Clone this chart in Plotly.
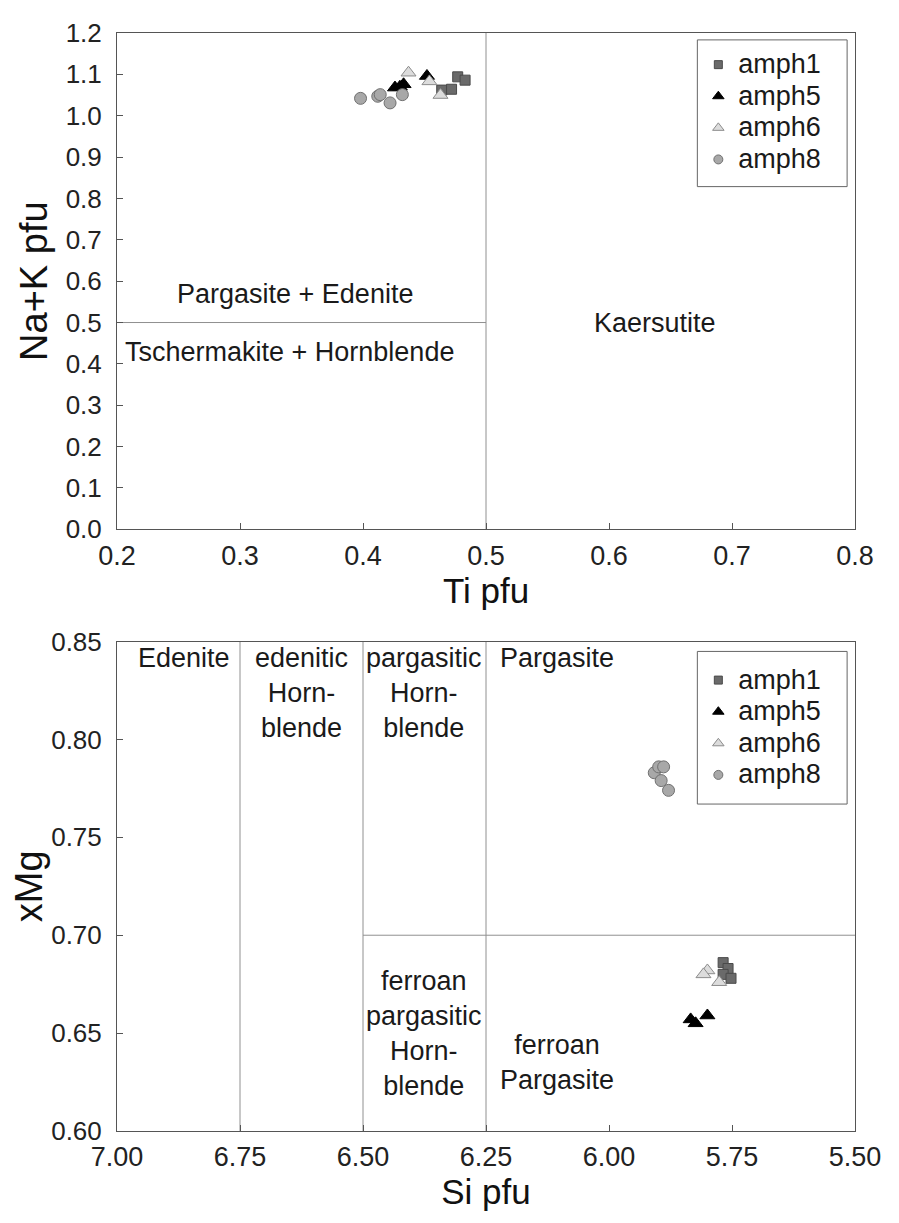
import plotly.graph_objects as go

# ---------------- data ----------------
series_names = ["amph1", "amph5", "amph6", "amph8"]

# Top diagram: Ti pfu vs Na+K pfu
ti_amph1 = [0.464, 0.472, 0.477, 0.483]
nak_amph1 = [1.062, 1.064, 1.094, 1.086]
ti_amph5 = [0.426, 0.430, 0.433, 0.452]
nak_amph5 = [1.068, 1.070, 1.076, 1.096]
ti_amph6 = [0.437, 0.454, 0.463]
nak_amph6 = [1.104, 1.083, 1.050]
ti_amph8 = [0.398, 0.412, 0.414, 0.422, 0.432]
nak_amph8 = [1.042, 1.047, 1.051, 1.031, 1.051]

# Bottom diagram: Si pfu vs xMg
si_amph1 = [5.768, 5.758, 5.768, 5.752]
xmg_amph1 = [0.686, 0.683, 0.680, 0.678]
si_amph5 = [5.834, 5.824, 5.800]
xmg_amph5 = [0.657, 0.655, 0.659]
si_amph6 = [5.800, 5.808, 5.776]
xmg_amph6 = [0.682, 0.680, 0.676]
si_amph8 = [5.908, 5.899, 5.889, 5.894, 5.879]
xmg_amph8 = [0.783, 0.786, 0.786, 0.779, 0.774]

# classification boundaries
top_vline_x = 0.5
top_hline_y = 0.5
bot_vlines_x = [6.75, 6.50, 6.25]
bot_hline_y = 0.70
bot_hline_x = [6.50, 5.50]

top_xticks = [0.2, 0.3, 0.4, 0.5, 0.6, 0.7, 0.8]
top_yticks = [0.0, 0.1, 0.2, 0.3, 0.4, 0.5, 0.6, 0.7, 0.8, 0.9, 1.0, 1.1, 1.2]
bot_xticks = [7.00, 6.75, 6.50, 6.25, 6.00, 5.75, 5.50]
bot_yticks = [0.60, 0.65, 0.70, 0.75, 0.80, 0.85]

# ---------------- styles ----------------
marker_styles = {
    "amph1": dict(symbol="square", color="#6a6a6a", size=10, line=dict(color="#4a4a4a", width=1)),
    "amph5": dict(symbol="triangle-up", color="#000000", size=13, line=dict(color="#000000", width=1)),
    "amph6": dict(symbol="triangle-up", color="#dcdcdc", size=13, line=dict(color="#8c8c8c", width=1)),
    "amph8": dict(symbol="circle", color="#a8a8a8", size=12, line=dict(color="#707070", width=1)),
}
legend_sizes = {"amph1": 8, "amph5": 10, "amph6": 10, "amph8": 9}

FONT = "Liberation Sans, Arial, Helvetica, sans-serif"
LINE_C = "#909090"
AXIS_C = "#555555"
TXT = "#1a1a1a"

# figure geometry (the page adds an 8 px body margin)
OFF = 8
W, H = 883, 1207
L = 117 - OFF
R = W - (866 - OFF)
T = 18 - OFF
B = H - (1133 - OFF)
PW = W - L - R
PH = H - T - B


def px_x(page_x):
    return (page_x - OFF - L) / PW


def px_y(page_y):
    return (H - B - (page_y - OFF)) / PH


fig = go.Figure()

top_data = {"amph1": (ti_amph1, nak_amph1), "amph5": (ti_amph5, nak_amph5),
            "amph6": (ti_amph6, nak_amph6), "amph8": (ti_amph8, nak_amph8)}
bot_data = {"amph1": (si_amph1, xmg_amph1), "amph5": (si_amph5, xmg_amph5),
            "amph6": (si_amph6, xmg_amph6), "amph8": (si_amph8, xmg_amph8)}

for name in series_names:
    x, y = top_data[name]
    fig.add_trace(go.Scatter(x=x, y=y, mode="markers", name=name, marker=marker_styles[name],
                             xaxis="x", yaxis="y", showlegend=False))
for name in series_names:
    x, y = bot_data[name]
    fig.add_trace(go.Scatter(x=x, y=y, mode="markers", name=name, marker=marker_styles[name],
                             xaxis="x2", yaxis="y2", showlegend=False))

# legend-only entries (no data points) with the small legend symbols
for lg, xa, ya in [("legend", "x", "y"), ("legend2", "x2", "y2")]:
    for name in series_names:
        st = dict(marker_styles[name])
        st["size"] = legend_sizes[name]
        fig.add_trace(go.Scatter(x=[None], y=[None], mode="markers",
                                 name='<span style="font-size:27px">' + name + "</span>",
                                 marker=st, xaxis=xa, yaxis=ya, legend=lg, showlegend=True))

# boundary lines
shapes = []
shapes.append(dict(type="line", xref="x", yref="y", x0=top_vline_x, x1=top_vline_x,
                   y0=top_yticks[0], y1=top_yticks[-1], line=dict(color=LINE_C, width=1), layer="below"))
shapes.append(dict(type="line", xref="x", yref="y", x0=top_xticks[0], x1=top_vline_x,
                   y0=top_hline_y, y1=top_hline_y, line=dict(color=LINE_C, width=1), layer="below"))
for vx in bot_vlines_x:
    shapes.append(dict(type="line", xref="x2", yref="y2", x0=vx, x1=vx,
                       y0=bot_yticks[0], y1=bot_yticks[-1], line=dict(color=LINE_C, width=1), layer="below"))
shapes.append(dict(type="line", xref="x2", yref="y2", x0=bot_hline_x[0], x1=bot_hline_x[1],
                   y0=bot_hline_y, y1=bot_hline_y, line=dict(color=LINE_C, width=1), layer="below"))

# legend boxes
shapes.append(dict(type="rect", xref="paper", yref="paper", x0=px_x(706), x1=px_x(858),
                   y0=px_y(174), y1=px_y(25), line=dict(color="#666666", width=1)))
shapes.append(dict(type="rect", xref="paper", yref="paper", x0=px_x(706), x1=px_x(858),
                   y0=px_y(801), y1=px_y(646), line=dict(color="#666666", width=1)))

ann_font = dict(family=FONT, size=27, color=TXT)
top_row_y = 0.849
annotations = [
    dict(x=0.345, y=0.569, xref="x", yref="y", text="Pargasite + Edenite", showarrow=False, font=ann_font),
    dict(x=0.340, y=0.429, xref="x", yref="y", text="Tschermakite + Hornblende", showarrow=False, font=ann_font),
    dict(x=0.637, y=0.500, xref="x", yref="y", text="Kaersutite", showarrow=False, font=ann_font),
    dict(x=6.864, y=top_row_y, xref="x2", yref="y2", text="Edenite", showarrow=False, font=ann_font,
         yanchor="top", yshift=3),
    dict(x=6.625, y=top_row_y, xref="x2", yref="y2", text="edenitic<br>Horn-<br>blende", showarrow=False,
         font=ann_font, yanchor="top", yshift=3),
    dict(x=6.376, y=top_row_y, xref="x2", yref="y2", text="pargasitic<br>Horn-<br>blende", showarrow=False,
         font=ann_font, yanchor="top", yshift=3),
    dict(x=6.105, y=top_row_y, xref="x2", yref="y2", text="Pargasite", showarrow=False, font=ann_font,
         yanchor="top", yshift=3),
    dict(x=6.376, y=0.650, xref="x2", yref="y2", text="ferroan<br>pargasitic<br>Horn-<br>blende",
         showarrow=False, font=ann_font),
    dict(x=6.105, y=0.635, xref="x2", yref="y2", text="ferroan<br>Pargasite", showarrow=False, font=ann_font),
]

ytick_font = dict(family=FONT, size=26, color="#222")
xtick_font = dict(family=FONT, size=27, color="#222")
common_axis = dict(showline=True, linecolor=AXIS_C, linewidth=1, mirror=True, ticks="inside",
                   ticklen=6, tickcolor=AXIS_C, showgrid=False, zeroline=False)

fig.update_layout(
    width=W, height=H,
    margin=dict(l=L, r=R, t=T, b=B),
    paper_bgcolor="white", plot_bgcolor="white",
    showlegend=True,
    xaxis=dict(domain=[0, 1], anchor="y", range=[0.2, 0.8], tickvals=top_xticks, tickformat=".1f",
               tickfont=xtick_font, ticklabelstandoff=2,
               title=dict(text="Ti pfu", font=dict(family=FONT, size=35, color="#111"), standoff=8),
               **common_axis),
    yaxis=dict(domain=[px_y(522), px_y(18)], anchor="x", range=[0.0, 1.2], tickvals=top_yticks, tickformat=".1f",
               tickfont=ytick_font, ticklabelstandoff=9,
               title=dict(text="Na+K pfu", font=dict(family=FONT, size=38, color="#111"), standoff=6),
               **common_axis),
    xaxis2=dict(domain=[0, 1], anchor="y2", range=[7.0, 5.5], tickvals=bot_xticks, tickformat=".2f",
                tickfont=xtick_font, ticklabelstandoff=2,
                title=dict(text="Si pfu", font=dict(family=FONT, size=35, color="#111"), standoff=8),
                **common_axis),
    yaxis2=dict(domain=[px_y(1133), px_y(636)], anchor="x2", range=[0.60, 0.85], tickvals=bot_yticks, tickformat=".2f",
                tickfont=ytick_font, ticklabelstandoff=9,
                title=dict(text="xMg", font=dict(family=FONT, size=38, color="#111"), standoff=6),
                **common_axis),
    legend=dict(x=px_x(707), y=px_y(29), xanchor="left", yanchor="top", bgcolor="rgba(0,0,0,0)",
                borderwidth=0, font=dict(family=FONT, size=22, color=TXT), tracegroupgap=0,
                itemsizing="trace"),
    legend2=dict(x=px_x(707), y=px_y(654), xanchor="left", yanchor="top", bgcolor="rgba(0,0,0,0)",
                 borderwidth=0, font=dict(family=FONT, size=22, color=TXT), tracegroupgap=0,
                 itemsizing="trace"),
    shapes=shapes,
    annotations=annotations,
)

fig.write_html("out.html")
